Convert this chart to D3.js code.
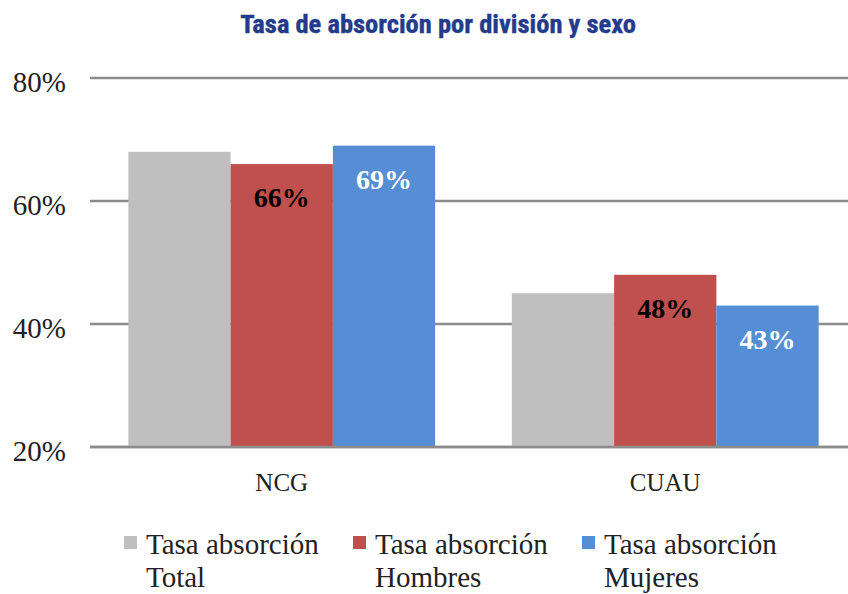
<!DOCTYPE html>
<html>
<head>
<meta charset="utf-8">
<script src="https://cdn.jsdelivr.net/npm/d3@7"></script>
<style>
  html, body { margin: 0; padding: 0; background: #fff; }
  svg { display: block; }
</style>
</head>
<body>
<svg id="chart" width="848" height="594"></svg>
<script>
// Absorption rate by division and sex
const divisions = ["NCG", "CUAU"];
const seriesNames = ["Tasa absorción Total", "Tasa absorción Hombres", "Tasa absorción Mujeres"];
const legendLines = [["Tasa absorción", "Total"], ["Tasa absorción", "Hombres"], ["Tasa absorción", "Mujeres"]];
const totalValues = [68, 45];
const hombresValues = [66, 48];
const mujeresValues = [69, 43];
const yTicks = [20, 40, 60, 80];
const colors = ["#bfbfbf", "#c0504d", "#558ed5"];
const labelColors = [null, "#000000", "#ffffff"];

const seriesValues = [totalValues, hombresValues, mujeresValues];

const svg = d3.select("#chart");
const serif = "'Liberation Serif', 'DejaVu Serif', serif";

const x0 = d3.scaleBand().domain(divisions).range([90, 857]).paddingInner(0.2).paddingOuter(0.1);
const x1 = d3.scaleBand().domain(d3.range(seriesNames.length)).range([0, x0.bandwidth()]);
const y = d3.scaleLinear().domain([20, 80]).range([447, 78]);

// Title
svg.append("text")
  .attr("x", 438).attr("y", 33)
  .attr("text-anchor", "middle")
  .attr("font-family", "'Liberation Sans Narrow', 'Roboto Condensed', 'Arial Narrow', sans-serif")
  .attr("font-weight", "bold")
  .attr("font-size", 26.5)
  .attr("fill", "#243a8c")
  .attr("stroke", "#243a8c").attr("stroke-width", 0.4)
  .text("Tasa de absorción por división y sexo");

// Gridlines and y-axis labels
const yAxis = d3.axisLeft(y).tickValues(yTicks).tickSize(0).tickFormat(d => d + "%");
const yg = svg.append("g").attr("transform", "translate(66,0)").call(yAxis);
yg.select(".domain").remove();
yg.selectAll("text")
  .attr("x", 0).attr("dy", "0.48em")
  .attr("font-family", serif).attr("font-size", 29).attr("fill", "#222");

svg.append("g").selectAll("line").data(yTicks).join("line")
  .attr("x1", 90).attr("x2", 848)
  .attr("y1", d => y(d)).attr("y2", d => y(d))
  .attr("stroke", "#8c8c8c").attr("stroke-width", 2.5);

// Bars
const groups = svg.append("g").selectAll("g").data(divisions).join("g")
  .attr("transform", d => `translate(${x0(d)},0)`);

groups.each(function(div, di) {
  const g = d3.select(this);
  seriesValues.forEach((vals, si) => {
    g.append("rect")
      .attr("x", x1(si)).attr("width", x1.bandwidth())
      .attr("y", y(vals[di])).attr("height", y(20) - y(vals[di]))
      .attr("fill", colors[si]);
  });
});

// Baseline redrawn over bars
svg.append("line")
  .attr("x1", 90).attr("x2", 848)
  .attr("y1", y(20)).attr("y2", y(20))
  .attr("stroke", "#8c8c8c").attr("stroke-width", 2.5);

// Value labels inside the Hombres and Mujeres bars
groups.each(function(div, di) {
  const g = d3.select(this);
  [1, 2].forEach(si => {
    const v = seriesValues[si][di];
    g.append("text")
      .attr("x", x1(si) + x1.bandwidth() / 2)
      .attr("y", y(v) + 43)
      .attr("text-anchor", "middle")
      .attr("font-family", serif)
      .attr("font-weight", "bold")
      .attr("font-size", 28)
      .attr("fill", labelColors[si])
      .text(v + "%");
  });
});

// Category axis labels
const xAxis = d3.axisBottom(x0).tickSize(0);
const xg = svg.append("g").attr("transform", `translate(0,${y(20)})`).call(xAxis);
xg.select(".domain").remove();
xg.selectAll("text")
  .attr("y", 26).attr("dy", "0.71em")
  .attr("font-family", serif).attr("font-size", 25).attr("fill", "#222");

// Legend
const legendX = [124, 353, 582];
const legend = svg.append("g").selectAll("g").data(seriesNames).join("g")
  .attr("transform", (d, i) => `translate(${legendX[i]},0)`);
legend.append("rect")
  .attr("x", 0).attr("y", 536).attr("width", 13).attr("height", 13)
  .attr("fill", (d, i) => colors[i]);
legend.each(function(d, i) {
  const t = d3.select(this).append("text")
    .attr("font-family", serif).attr("font-size", 29).attr("fill", "#222");
  legendLines[i].forEach((line, li) => {
    t.append("tspan").attr("x", 22).attr("y", 554 + li * 33).text(line);
  });
});
</script>
</body>
</html>
